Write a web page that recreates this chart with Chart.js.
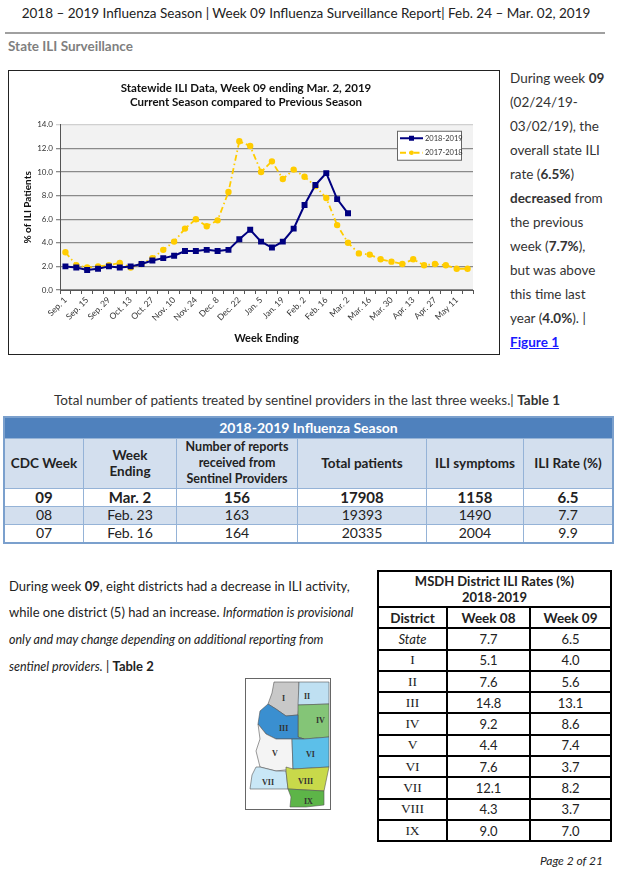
<!DOCTYPE html>
<html>
<head>
<meta charset="utf-8">
<script src="https://cdn.jsdelivr.net/npm/chart.js@4.4.1/dist/chart.umd.min.js"></script>
<style>
  html, body { margin: 0; padding: 0; background: #fff; }
  body { width: 626px; height: 874px; position: relative; overflow: hidden; font-family: Lato, sans-serif; color: #222; }
  .abs { position: absolute; }
  #header { left: 0; top: 5px; width: 612px; text-align: center; font-size: 13.5px; }
  #rule { left: 5px; top: 32px; width: 600px; height: 0; border-top: 2.5px solid #a0a0a0; }
  #section { left: 8px; top: 38px; font-size: 13.5px; font-weight: bold; color: #7f7f7f; }
  #chartBox { left: 8px; top: 70px; width: 490px; height: 283px; border: 1.5px solid #222; }
  #chartWrap { position: absolute; left: 0; top: 0; width: 490px; height: 283px; }
  #sideText { left: 510px; top: 66px; width: 110px; font-size: 13.5px; line-height: 24px; color: #333; }
  #sideText a { color: #1a1aff; font-weight: bold; text-decoration: underline; }
  #cap1 { left: 0; top: 392px; width: 614px; text-align: center; font-size: 13.5px; color: #333; }
  table { border-collapse: collapse; }
  #t1 { left: 3px; top: 416px; width: 611px; font-size: 14px; border: 2px solid #7ba0cd; }
  #t1 td { border: 1px solid #95b3d7; text-align: center; padding: 0; }
  #t1 .top { background: #4f81bd; color: #fff; font-weight: bold; height: 21px; font-size: 14px; }
  #t1 .hd td { background: #d3dfee; font-weight: bold; height: 49px; line-height: 16px; font-size: 13.5px; }
  #t1 .hd td.small { font-size: 12.5px; }
  #t1 .r td { height: 17px; line-height: 16px; }
  #t1 .b td { font-weight: bold; font-size: 15px; }
  #t1 .alt td { background: #d3dfee; }
  #para { left: 9px; top: 573px; width: 366px; font-size: 13px; line-height: 26px; color: #222; }
  #para i { font-size: 12.5px; }
  #mapBox { left: 245px; top: 678px; width: 84px; height: 130px; border: 1px solid #666; background: #fff; }
  #t2 { left: 377px; top: 570px; width: 235px; border: 2px solid #000; font-size: 13px; }
  #t2 td { border: 2px solid #000; text-align: center; padding: 0; height: 19.3px; line-height: 16px; }
  #t2 .ttl td { font-weight: bold; height: 34px; font-size: 13px; }
  #t2 .hd td { font-weight: bold; font-size: 13.5px; }
  #t2 .rn { font-family: "Liberation Serif", serif; font-size: 13.5px; }
  #page { left: 540px; top: 853px; font-size: 12px; font-style: italic; color: #222; }
</style>
</head>
<body>
<div id="header" class="abs">2018 – 2019 Influenza Season | Week 09 Influenza Surveillance Report| Feb. 24 – Mar. 02, 2019</div>
<div id="rule" class="abs"></div>
<div id="section" class="abs">State ILI Surveillance</div>

<div id="chartBox" class="abs"><div id="chartWrap"><canvas id="myChart"></canvas></div></div>

<div id="sideText" class="abs">During week <b>09</b><br>(02/24/19-<br>03/02/19), the<br>overall state ILI<br>rate (<b>6.5%</b>)<br><b>decreased</b> from<br>the previous<br>week (<b>7.7%</b>),<br>but was above<br>this time last<br>year (<b>4.0%</b>). |<br><a>Figure 1</a></div>

<div id="cap1" class="abs">Total number of patients treated by sentinel providers in the last three weeks.| <b>Table 1</b></div>

<table id="t1" class="abs">
  <tr class="top"><td colspan="6">2018-2019 Influenza Season</td></tr>
  <tr class="hd">
    <td style="width:78px">CDC Week</td>
    <td style="width:92px">Week<br>Ending</td>
    <td style="width:120px" class="small">Number of reports<br>received from<br>Sentinel Providers</td>
    <td style="width:128px">Total patients</td>
    <td style="width:96px">ILI symptoms</td>
    <td>ILI Rate (%)</td>
  </tr>
  <tr class="r b"><td>09</td><td>Mar. 2</td><td>156</td><td>17908</td><td>1158</td><td>6.5</td></tr>
  <tr class="r alt"><td>08</td><td>Feb. 23</td><td>163</td><td>19393</td><td>1490</td><td>7.7</td></tr>
  <tr class="r"><td>07</td><td>Feb. 16</td><td>164</td><td>20335</td><td>2004</td><td>9.9</td></tr>
</table>

<div id="para" class="abs">During week <b>09</b>, eight districts had a decrease in ILI activity,<br>while one district (5) had an increase. <i>Information is provisional<br>only and may change depending on additional reporting from<br>sentinel providers.</i> | <b>Table 2</b></div>

<div id="mapBox" class="abs">
  <svg width="84" height="130" viewBox="0 0 84 130" font-family="Liberation Serif" font-weight="bold" font-size="8">
    <g stroke="#555" stroke-width="0.6">
      <polygon points="28,3 53,3 53,26 52,36 40,37 30,30 22,25 26,14" fill="#c8c8c8"/>
      <polygon points="53,3 83,3 83,25 52,26" fill="#bfe0f2"/>
      <polygon points="52,26 83,25 83,58 58,60 52,58" fill="#84c577"/>
      <polygon points="22,25 30,30 40,37 52,36 52,58 58,60 46,60 30,60 20,55 12,45 14,32" fill="#3a8fd0"/>
      <polygon points="12,45 20,55 30,60 46,60 47,90 30,92 14,88 10,72 14,60" fill="#f4f4f4"/>
      <polygon points="46,60 58,60 83,58 83,88 47,90" fill="#5cbfe9"/>
      <polygon points="10,88 14,88 30,92 40,92 42,110 4,110 6,96" fill="#c9e7f6"/>
      <polygon points="40,88 47,90 83,88 78,112 42,110 40,92" fill="#c8d94a"/>
      <polygon points="42,110 78,112 78,126 60,128 44,128 45,118" fill="#5db548"/>
    </g>
    <g fill="#333">
      <text x="36" y="22">I</text>
      <text x="58" y="20">II</text>
      <text x="70" y="44">IV</text>
      <text x="33" y="52">III</text>
      <text x="26" y="77">V</text>
      <text x="60" y="78">VI</text>
      <text x="16" y="106">VII</text>
      <text x="52" y="105">VIII</text>
      <text x="58" y="125">IX</text>
    </g>
  </svg>
</div>

<table id="t2" class="abs">
  <tr class="ttl"><td colspan="3">MSDH District ILI Rates (%)<br>2018-2019</td></tr>
  <tr class="hd"><td style="width:67px">District</td><td style="width:81px">Week 08</td><td>Week 09</td></tr>
  <tr><td><i>State</i></td><td>7.7</td><td>6.5</td></tr>
  <tr><td class="rn">I</td><td>5.1</td><td>4.0</td></tr>
  <tr><td class="rn">II</td><td>7.6</td><td>5.6</td></tr>
  <tr><td class="rn">III</td><td>14.8</td><td>13.1</td></tr>
  <tr><td class="rn">IV</td><td>9.2</td><td>8.6</td></tr>
  <tr><td class="rn">V</td><td>4.4</td><td>7.4</td></tr>
  <tr><td class="rn">VI</td><td>7.6</td><td>3.7</td></tr>
  <tr><td class="rn">VII</td><td>12.1</td><td>8.2</td></tr>
  <tr><td class="rn">VIII</td><td>4.3</td><td>3.7</td></tr>
  <tr><td class="rn">IX</td><td>9.0</td><td>7.0</td></tr>
</table>

<div id="page" class="abs">Page 2 of 21</div>

<script>
// week ending dates, one per week; only every other one is printed on the axis
let semanas = ['Sep. 1', 'Sep. 8', 'Sep. 15', 'Sep. 22', 'Sep. 29', 'Oct. 6', 'Oct. 13', 'Oct. 20',
    'Oct. 27', 'Nov. 3', 'Nov. 10', 'Nov. 17', 'Nov. 24', 'Dec. 1', 'Dec. 8', 'Dec. 15', 'Dec. 22',
    'Dec. 29', 'Jan. 5', 'Jan. 12', 'Jan. 19', 'Jan. 26', 'Feb. 2', 'Feb. 9', 'Feb. 16', 'Feb. 23',
    'Mar. 2', 'Mar. 9', 'Mar. 16', 'Mar. 23', 'Mar. 30', 'Apr. 6', 'Apr. 13', 'Apr. 20', 'Apr. 27',
    'May 4', 'May 11', 'May 18']

let temporada1819 = [2.0, 1.9, 1.7, 1.8, 2.0, 1.9, 2.0, 2.2, 2.5, 2.7, 2.9, 3.3, 3.3, 3.4, 3.3, 3.4,
    4.3, 5.1, 4.1, 3.6, 4.1, 5.2, 7.2, 8.9, 9.9, 7.7, 6.5]

let temporada1718 = [3.2, 2.1, 1.9, 2.0, 2.1, 2.3, 1.9, 2.2, 2.7, 3.4, 4.1, 5.2, 6.0, 5.4, 5.9, 8.3,
    12.6, 12.2, 10.0, 10.9, 9.4, 10.2, 9.6, 8.8, 7.8, 5.5, 4.0, 3.1, 3.0, 2.6, 2.4, 2.2, 2.6, 2.1,
    2.2, 2.1, 1.8, 1.8]

let nomesSeries = ['2018-2019', '2017-2018']
let yTicks = [0, 2, 4, 6, 8, 10, 12, 14]

let corAzul = '#000080'
let corAmarela = '#ffcc00'

// gray fill behind the plot
const fundoPlot = {
    id: 'fundoPlot',
    beforeDraw(chart) {
        const a = chart.chartArea
        chart.ctx.save()
        chart.ctx.fillStyle = '#f2f2f2'
        chart.ctx.fillRect(a.left, a.top, a.right - a.left, a.bottom - a.top)
        chart.ctx.restore()
    }
}

// boxed legend inside the plot, like the excel one
const legendaCaixa = {
    id: 'legendaCaixa',
    afterDatasetsDraw(chart) {
        const ctx = chart.ctx
        const a = chart.chartArea
        const w = 64, h = 29
        const x = a.right - 12 - w
        const y = a.top + 6
        ctx.save()
        ctx.fillStyle = '#ffffff'
        ctx.fillRect(x, y, w, h)
        ctx.strokeStyle = '#666'
        ctx.lineWidth = 1
        ctx.strokeRect(x + 0.5, y + 0.5, w, h)
        chart.data.datasets.forEach(function (ds, i) {
            let ly = y + 7.5 + i * 14.5
            ctx.strokeStyle = ds.borderColor
            ctx.lineWidth = 2
            ctx.setLineDash(ds.borderDash || [])
            ctx.beginPath()
            ctx.moveTo(x + 3, ly)
            ctx.lineTo(x + 26, ly)
            ctx.stroke()
            ctx.setLineDash([])
            ctx.fillStyle = ds.pointBackgroundColor
            if (ds.pointStyle == 'rect') {
                ctx.fillRect(x + 12, ly - 2.5, 5, 5)
            } else {
                ctx.beginPath()
                ctx.arc(x + 14.5, ly, 2.3, 0, Math.PI * 2)
                ctx.fill()
            }
            ctx.fillStyle = '#333'
            ctx.font = '7.5px Lato'
            ctx.textBaseline = 'middle'
            ctx.fillText(ds.label, x + 28, ly)
        })
        ctx.restore()
    }
}

const ctx = document.getElementById('myChart').getContext('2d')
let myChart = new Chart(ctx, {
    type: 'line',
    data: {
        labels: semanas,
        datasets: [{
            label: nomesSeries[0],
            data: temporada1819,
            borderColor: corAzul,
            backgroundColor: corAzul,
            pointBackgroundColor: corAzul,
            pointBorderColor: corAzul,
            borderWidth: 2,
            pointStyle: 'rect',
            pointRadius: 2.8,
            tension: 0
        }, {
            label: nomesSeries[1],
            data: temporada1718,
            borderColor: corAmarela,
            backgroundColor: corAmarela,
            pointBackgroundColor: corAmarela,
            pointBorderColor: corAmarela,
            borderWidth: 1.8,
            borderDash: [6, 3, 1.5, 3],
            pointStyle: 'circle',
            pointRadius: 2.3,
            tension: 0
        }]
    },
    options: {
        responsive: true,
        maintainAspectRatio: false,
        animation: false,
        layout: { padding: { top: 8, left: 10, right: 26, bottom: 6 } },
        plugins: {
            legend: { display: false },
            tooltip: { enabled: false },
            title: {
                display: true,
                text: ['Statewide ILI Data, Week 09 ending Mar. 2, 2019', 'Current Season compared to Previous Season'],
                color: '#111',
                font: { family: 'Lato', size: 11.5, weight: 'bold', lineHeight: 1.25 },
                padding: { top: 2, bottom: 15 }
            }
        },
        scales: {
            x: {
                offset: true,
                afterFit(scale) { scale.height = 58 },
                grid: { offset: true, drawOnChartArea: false, tickLength: 4, color: '#555' },
                border: { color: '#555', width: 1 },
                ticks: {
                    autoSkip: false,
                    maxRotation: 45,
                    minRotation: 45,
                    padding: 1,
                    color: '#333',
                    font: { family: 'Lato', size: 8.5 },
                    callback: function (v, i) { return i % 2 == 0 ? semanas[i] : '' }
                },
                title: {
                    display: true,
                    text: 'Week Ending',
                    color: '#111',
                    font: { family: 'Lato', size: 11, weight: 'bold' },
                    padding: { top: 4, bottom: 3 }
                }
            },
            y: {
                min: yTicks[0],
                max: yTicks[yTicks.length - 1],
                afterFit(scale) { scale.width = 41 },
                afterBuildTicks(scale) { scale.ticks = yTicks.map(function (v) { return { value: v } }) },
                grid: {
                    color: function (c) { return c.tick && c.tick.value == 14 ? '#d0d0d0' : '#8a8a8a' },
                    lineWidth: 1.3,
                    tickLength: 4
                },
                border: { color: '#555', width: 1 },
                ticks: {
                    color: '#333',
                    padding: 3,
                    font: { family: 'Lato', size: 8 },
                    callback: function (v) { return Number(v).toFixed(1) }
                },
                title: {
                    display: true,
                    text: '% of ILI Patients',
                    color: '#111',
                    font: { family: 'Lato', size: 10, weight: 'bold' },
                    padding: { top: 3, bottom: 3 }
                }
            }
        }
    },
    plugins: [fundoPlot, legendaCaixa]
});
</script>
</body>
</html>
